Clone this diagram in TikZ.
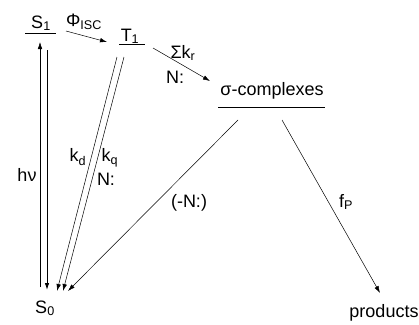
\documentclass[tikz,border=0pt]{standalone}
\usepackage{fontspec}
\setmainfont{Liberation Sans}
\usetikzlibrary{arrows.meta}

\begin{document}
\begin{tikzpicture}[
    x=1pt, y=-1pt,
    font=\fontsize{18}{20}\selectfont,
    lbl/.style={
        inner sep=0pt,
        anchor=center
    },
    state/.style={
        inner sep=0pt,
        anchor=base
    },
    level/.style={
        line width=0.9pt
    },
    arrow/.style={
        -{Latex[length=7pt,width=4.5pt]},
        line width=0.5pt
    }
]
\useasboundingbox (0,0) rectangle (419,324);

% energy levels
\node[state] (S1) at (41,28) {S\textsubscript{1}};
\node[state] (T1) at (130,41) {T\textsubscript{1}};
\node[state] (sigma) at (272,95) {σ-complexes};
\node[state] (S0) at (45,313) {S\textsubscript{0}};
\node[state] (prod) at (384,317) {products};

\coordinate (S1a) at (25,33);
\coordinate (S1b) at (56,33);
\coordinate (T1a) at (119,44);
\coordinate (T1b) at (145,44);
\coordinate (siga) at (218,107);
\coordinate (sigb) at (325,107);

\draw[level] (S1a) -- (S1b);
\draw[level] (T1a) -- (T1b);
\draw[level] (siga) -- (sigb);

% arrow end points
\coordinate (iscA) at (66,31);
\coordinate (iscB) at (107,42);
\coordinate (krA) at (153,48);
\coordinate (krB) at (210,81);
\coordinate (upA) at (40,287);
\coordinate (upB) at (40,42);
\coordinate (dnA) at (47,50);
\coordinate (dnB) at (47,290);
\coordinate (kdA) at (117,57);
\coordinate (kdB) at (57,291);
\coordinate (kqA) at (124,57);
\coordinate (kqB) at (63,291);
\coordinate (nA) at (238,120);
\coordinate (nB) at (68,291);
\coordinate (fA) at (282,120);
\coordinate (fB) at (380,293);

\draw[arrow] (iscA) -- (iscB);
\draw[arrow] (krA) -- (krB);
\draw[arrow] (upA) -- (upB);
\draw[arrow, line width=0.9pt] (dnA) -- (dnB);
\draw[arrow] (kdA) -- (kdB);
\draw[arrow] (kqA) -- (kqB);
\draw[arrow] (nA) -- (nB);
\draw[arrow] (fA) -- (fB);

% rate labels
\node[lbl] (isc) at (84,22) {Φ\textsubscript{ISC}};
\node[lbl] (kr) at (183,53) {Σk\textsubscript{r}};
\node[lbl] (n1) at (175,77) {N:};
\node[lbl] (hv) at (27,175) {hν};
\node[lbl] (kd) at (78,157) {k\textsubscript{d}};
\node[lbl] (kq) at (110,158) {k\textsubscript{q}};
\node[lbl] (n2) at (106,179) {N:};
\node[lbl] (mn) at (189,203) {(-N:)};
\node[lbl] (fp) at (346,202) {f\textsubscript{P}};

\end{tikzpicture}
\end{document}
